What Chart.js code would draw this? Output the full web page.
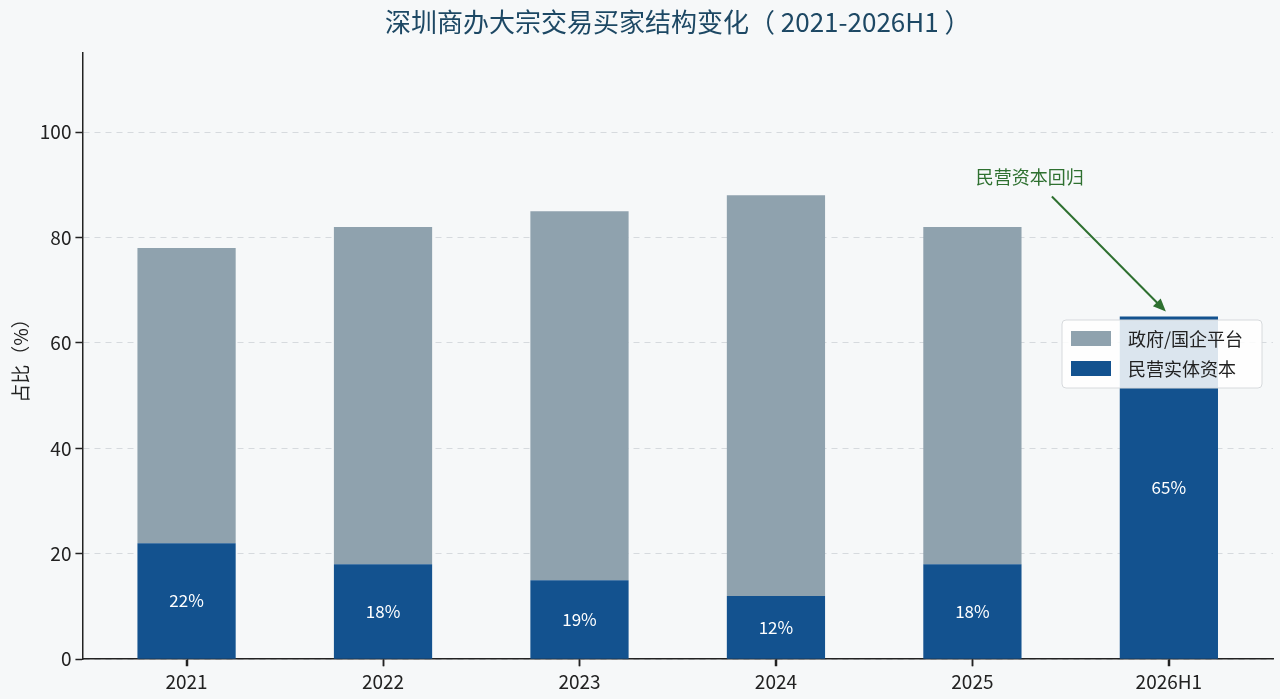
<!DOCTYPE html>
<html>
<head>
<meta charset="utf-8">
<script src="https://cdn.jsdelivr.net/npm/chart.js@4.4.0/dist/chart.umd.min.js"></script>
<style>
  html, body { margin: 0; padding: 0; background: #f6f8f9; }
  #wrap { width: 1280px; height: 699px; }
</style>
</head>
<body>
<div id="wrap"><canvas id="myChart" width="1280" height="699"></canvas></div>
<script>
const years = ['2021', '2022', '2023', '2024', '2025', '2026H1'];
const siying = [22, 18, 15, 12, 18, 65];        // 民营实体资本
const zhengfu = [56, 64, 70, 76, 64, 0];        // 政府/国企平台
const barText = ['22%', '18%', '19%', '12%', '18%', '65%'];
const yTicks = [0, 20, 40, 60, 80, 100];

const blue = '#13528f';
const gray = '#8fa2ae';
const font = "'Noto Sans CJK SC', 'Noto Sans', sans-serif";
const titleText = '深圳商办大宗交易买家结构变化（ 2021-2026H1 ）';

// title over the plot, x tick marks, bar labels, annotation arrow and legend box
const extras = {
  id: 'extras',
  afterDatasetsDraw(chart) {
    const c = chart.ctx;
    const area = chart.chartArea;
    const xs = chart.scales.x;
    const meta = chart.getDatasetMeta(0);
    c.save();
    c.textAlign = 'center';
    c.textBaseline = 'middle';

    c.font = '26px ' + font;
    c.fillStyle = '#1d4864';
    c.fillText(titleText, (area.left + area.right) / 2, 22);

    c.strokeStyle = '#222';
    c.lineWidth = 1.5;
    years.forEach((y, i) => {
      const px = Math.round(xs.getPixelForValue(i)) + 0.5;
      c.beginPath();
      c.moveTo(px, area.bottom);
      c.lineTo(px, area.bottom + 7);
      c.stroke();
    });

    c.font = '17px ' + font;
    c.fillStyle = '#ffffff';
    meta.data.forEach((bar, i) => {
      c.fillText(barText[i], bar.x, (bar.y + bar.base) / 2);
    });

    // annotation
    const last = meta.data[meta.data.length - 1];
    const tipX = last.x - 3, tipY = last.y - 5;
    const fromX = tipX - 114, fromY = tipY - 115;
    c.strokeStyle = '#2e7030';
    c.fillStyle = '#2e7030';
    c.lineWidth = 2;
    c.beginPath();
    c.moveTo(fromX, fromY);
    c.lineTo(tipX - 8, tipY - 8);
    c.stroke();
    const ang = Math.atan2(tipY - fromY, tipX - fromX);
    c.beginPath();
    c.moveTo(tipX, tipY);
    c.lineTo(tipX - 14 * Math.cos(ang - 0.4), tipY - 14 * Math.sin(ang - 0.4));
    c.lineTo(tipX - 14 * Math.cos(ang + 0.4), tipY - 14 * Math.sin(ang + 0.4));
    c.closePath();
    c.fill();
    c.font = '18px ' + font;
    c.fillText('民营资本回归', fromX - 22, fromY - 19);

    // legend
    const lx = 1062, ly = 320, lw = 200, lh = 68;
    c.fillStyle = 'rgba(255,255,255,0.85)';
    c.strokeStyle = '#d6d9dc';
    c.lineWidth = 1;
    c.beginPath();
    c.roundRect(lx, ly, lw, lh, 4);
    c.fill();
    c.stroke();
    const items = [[gray, '政府/国企平台'], [blue, '民营实体资本']];
    c.textAlign = 'left';
    c.font = '18px ' + font;
    items.forEach((it, k) => {
      const yy = ly + 18 + k * 30;
      c.fillStyle = it[0];
      c.fillRect(lx + 9, yy - 7, 40, 15);
      c.fillStyle = '#222';
      c.fillText(it[1], lx + 66, yy + 1);
    });
    c.restore();
  }
};

new Chart(document.getElementById('myChart'), {
  type: 'bar',
  data: {
    datasets: [
      { label: '民营实体资本', data: siying.map((v, i) => ({ x: i, y: v })), backgroundColor: blue, barPercentage: 0.5, categoryPercentage: 1 },
      { label: '政府/国企平台', data: zhengfu.map((v, i) => ({ x: i, y: v })), backgroundColor: gray, barPercentage: 0.5, categoryPercentage: 1 }
    ]
  },
  options: {
    responsive: false,
    animation: false,
    layout: { padding: { left: 5, right: 7, top: 53, bottom: 2 } },
    plugins: {
      legend: { display: false },
      tooltip: { enabled: false },
      title: { display: false }
    },
    scales: {
      x: {
        type: 'linear',
        stacked: true,
        min: -0.53,
        max: 5.53,
        offset: false,
        afterBuildTicks: (axis) => { axis.ticks = years.map((y, i) => ({ value: i })); },
        grid: { display: true, offset: false, drawOnChartArea: false, color: '#222', tickColor: '#222', tickLength: 7, tickWidth: 1.5 },
        border: { display: true, color: '#222', width: 1.5 },
        ticks: { color: '#222', font: { family: font, size: 19 }, padding: 4, callback: (v) => years[v] }
      },
      y: {
        stacked: true,
        min: 0,
        max: 115,
        afterBuildTicks: (axis) => { axis.ticks = yTicks.map(v => ({ value: v })); },
        grid: { color: '#d6dade', tickColor: '#222', tickLength: 7, tickWidth: 1.5, tickBorderDash: [] },
        border: { display: true, color: '#222', width: 1.5, dash: [6, 5] },
        ticks: { color: '#222', font: { family: font, size: 19 }, padding: 4 },
        title: { display: true, text: '占比（%）', color: '#222', font: { family: font, size: 19 }, padding: 4 }
      }
    }
  },
  plugins: [extras]
});
</script>
</body>
</html>
